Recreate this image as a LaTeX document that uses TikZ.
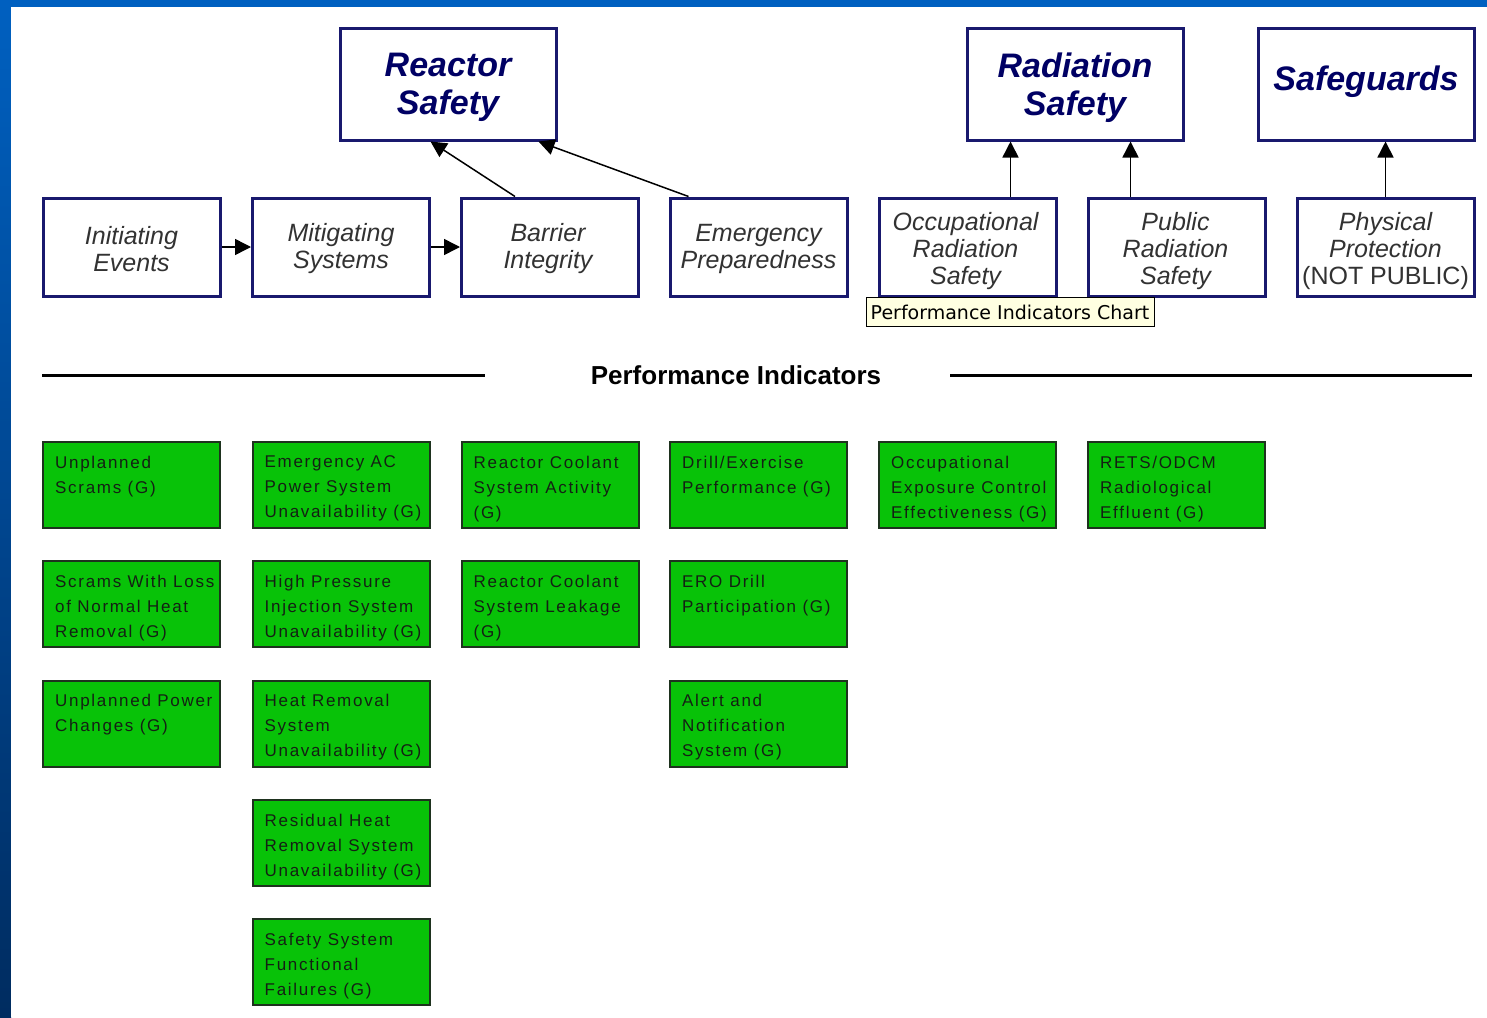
\documentclass[tikz,border=0pt]{standalone}
\usepackage{fontspec}
\setmainfont{Liberation Sans}
\newfontfamily\gfont{Liberation Sans}[LetterSpace=10]
\newfontfamily\tipfont{DejaVu Sans}
\usetikzlibrary{arrows.meta}
\definecolor{bluetop}{RGB}{0,96,192}
\definecolor{bluebot}{RGB}{0,44,96}
\definecolor{navyb}{RGB}{25,25,110}
\definecolor{titlec}{RGB}{0,0,100}
\definecolor{subc}{RGB}{50,50,50}
\definecolor{gfill}{RGB}{8,194,8}
\definecolor{gborder}{RGB}{30,50,30}
\definecolor{gtextc}{RGB}{20,32,20}
\definecolor{tipfill}{RGB}{255,255,225}
\newcommand\gboxx[4]{%
  \node[gbox] (#1) at (#2,#3) {};
  \node[gtext] (#1t) at ([shift={(12,13.5)}]#1.north west) {#4};}
\begin{document}
\begin{tikzpicture}[x=1pt,y=-1pt,
  topbox/.style={draw=navyb, line width=3pt, fill=white, minimum width=216pt,
    minimum height=112pt, inner sep=0pt},
  toptext/.style={inner sep=0pt,
    font=\fontsize{34}{38}\selectfont\bfseries\itshape, text=titlec, align=center},
  catbox/.style={draw=navyb, line width=3pt, fill=white, minimum width=177pt,
    minimum height=98pt, inner sep=0pt},
  cattext/.style={inner sep=0pt,
    font=\fontsize{25}{27}\selectfont\itshape, text=subc, align=center},
  gbox/.style={draw=gborder, line width=2pt, fill=gfill, minimum width=177pt,
    minimum height=86pt, inner sep=0pt, outer sep=0pt},
  gtext/.style={anchor=north west, inner sep=0pt, align=left,
    font=\gfont\fontsize{17}{25}\selectfont, text=gtextc},
  arr/.style={line width=1.5pt, draw=black, -{Triangle[length=16pt,width=16pt]}},
  tip/.style={draw=black, line width=1pt, fill=tipfill, minimum width=288pt,
    minimum height=29pt, inner sep=0pt, font=\tipfont\fontsize{19}{22}\selectfont},
  pihead/.style={font=\fontsize{26}{29}\selectfont\bfseries, inner sep=0pt}
]
\useasboundingbox (0,0) rectangle (1487,1017);
% background
\fill[bluetop] (0,0) rectangle (1487,1017);
\shade[top color=bluetop, bottom color=bluebot] (0,0) rectangle (11,1017);
\fill[bluetop] (0,0) rectangle (1487,7);
\fill[white] (11,7) rectangle (1487,1017);

% category boxes
\node[topbox] (rs) at (448,84) {};
\node[toptext] (rst) at (448,87.5) {Reactor\\Safety};
\node[topbox] (rad) at (1075,84) {};
\node[toptext] (radt) at (1075,87.5) {Radiation\\Safety};
\node[topbox] (sg) at (1366,84) {};
\node[toptext] (sgt) at (1366,82) {Safeguards};

% cornerstone boxes
\node[catbox] (ie) at (131.5,247) {};
\node[cattext] (iet) at (131.5,249) {Initiating\\Events};
\node[catbox] (ms) at (341,247) {};
\node[cattext] (mst) at (341,249) {Mitigating\\Systems};
\node[catbox] (bi) at (550,247) {};
\node[cattext] (bit) at (548,249) {Barrier\\Integrity};
\node[catbox] (ep) at (758.5,247) {};
\node[cattext] (ept) at (758.5,249) {Emergency\\Preparedness};
\node[catbox] (ors) at (967.5,247) {};
\node[cattext] (orst) at (965.5,251) {Occupational\\Radiation\\Safety};
\node[catbox] (prs) at (1176.5,247) {};
\node[cattext] (prst) at (1175.5,251) {Public\\Radiation\\Safety};
\node[catbox] (pp) at (1385.5,247) {};
\node[cattext] (ppt) at (1385.5,251) {Physical\\Protection\\{\upshape(NOT PUBLIC)}};

% connectors
\draw[arr] (ie.east) -- (ms.west);
\draw[arr] (ms.east) -- (bi.west);
\draw[arr] ([xshift=55]bi.north west) -- ([xshift=92]rs.south west);
\draw[arr] ([xshift=20]ep.north west) -- ([xshift=200]rs.south west);
\draw[arr] ([xshift=133]ors.north west) -- ([xshift=45]rad.south west);
\draw[arr] ([xshift=44]prs.north west) -- ([xshift=165]rad.south west);
\draw[arr] (pp.north) -- (pp.north |- sg.south);

% tooltip
\node[tip] (tt) at (1010,312) {Performance Indicators Chart};

% Performance Indicators header
\node[pihead] (pi) at (736,375) {Performance Indicators};
\coordinate (la) at (42,375);
\coordinate (lb) at (485,375);
\coordinate (ra) at (950,375);
\coordinate (rb) at (1472,375);
\draw[line width=3pt] (la) -- (lb);
\draw[line width=3pt] (ra) -- (rb);

% performance indicator boxes
\gboxx{g11}{131.5}{485}{Unplanned\\Scrams (G)}
\gboxx{g12}{131.5}{604}{Scrams With Loss\\of Normal Heat\\Removal (G)}
\gboxx{g13}{131.5}{723.5}{Unplanned Power\\Changes (G)}
\gboxx{g21}{341}{485}{Emergency AC\\Power System\\Unavailability (G)}
\gboxx{g22}{341}{604}{High Pressure\\Injection System\\Unavailability (G)}
\gboxx{g23}{341}{723.5}{Heat Removal\\System\\Unavailability (G)}
\gboxx{g24}{341}{843}{Residual Heat\\Removal System\\Unavailability (G)}
\gboxx{g25}{341}{962}{Safety System\\Functional\\Failures (G)}
\gboxx{g31}{550}{485}{Reactor Coolant\\System Activity\\(G)}
\gboxx{g32}{550}{604}{Reactor Coolant\\System Leakage\\(G)}
\gboxx{g41}{758.5}{485}{Drill/Exercise\\Performance (G)}
\gboxx{g42}{758.5}{604}{ERO Drill\\Participation (G)}
\gboxx{g43}{758.5}{723.5}{Alert and\\Notification\\System (G)}
\gboxx{g51}{967.5}{485}{Occupational\\Exposure Control\\Effectiveness (G)}
\gboxx{g61}{1176.5}{485}{RETS/ODCM\\Radiological\\Effluent (G)}
\end{tikzpicture}
\end{document}
